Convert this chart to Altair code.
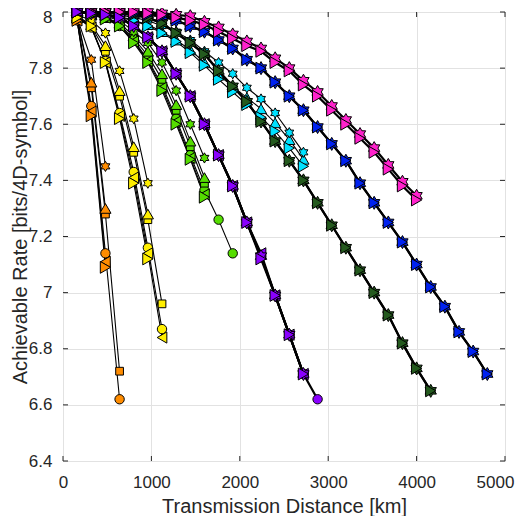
import altair as alt
import pandas as pd

# Distances (km) at which every curve is sampled
DISTANCES = [160, 320, 480, 640, 800, 960, 1120, 1280, 1440, 1600,
             1760, 1920, 2080, 2240, 2400, 2560, 2720, 2880, 3040, 3200,
             3360, 3520, 3680, 3840, 4000, 4160, 4320, 4480, 4640, 4800]

# drawing order of the colour groups (later ones on top)
GROUPS = ["orange", "yellow", "green", "cyan", "darkgreen", "blue", "magenta", "purple"]
COLORS = ["#ff8c00", "#ffee00", "#55dd00", "#00e1ff", "#245a1e", "#0022f0", "#ff22cc", "#8a00ff"]
MARKERS = ["circle", "square", "triangle-up", "triangle-left", "hexagram", "triangle-right"]
DARK = ["darkgreen", "blue", "magenta", "purple"]

HEXAGRAM = ("M0,-1L0.289,-0.5L0.866,-0.5L0.577,0L0.866,0.5L0.289,0.5L0,1"
            "L-0.289,0.5L-0.866,0.5L-0.577,0L-0.866,-0.5L-0.289,-0.5Z")

orange = {
    "hexagram":       [7.98, 7.83, 7.45],
    "circle":         [7.97, 7.665, 7.14, 6.62],
    "square":         [7.98, 7.73, 7.28, 6.72],
    "triangle-up":    [7.98, 7.75, 7.30],
    "triangle-left":  [7.97, 7.645, 7.11],
    "triangle-right": [7.97, 7.63, 7.09],
}

yellow = {
    "hexagram":       [7.99, 7.97, 7.925, 7.79, 7.62, 7.39],
    "circle":         [7.98, 7.945, 7.825, 7.64, 7.43, 7.16, 6.87],
    "square":         [7.985, 7.95, 7.86, 7.70, 7.50, 7.26, 6.96],
    "triangle-up":    [7.985, 7.955, 7.88, 7.72, 7.52, 7.28],
    "triangle-left":  [7.98, 7.945, 7.82, 7.63, 7.41, 7.14, 6.84],
    "triangle-right": [7.98, 7.95, 7.82, 7.62, 7.39, 7.12],
}

green = {
    "hexagram":       [8.0, 7.995, 7.985, 7.97, 7.93, 7.89, 7.82, 7.72, 7.60, 7.48],
    "circle":         [8.0, 7.99, 7.98, 7.95, 7.90, 7.83, 7.74, 7.62, 7.49, 7.365, 7.26, 7.14],
    "square":         [8.0, 7.99, 7.98, 7.955, 7.905, 7.845, 7.76, 7.65, 7.52, 7.39],
    "triangle-up":    [8.0, 7.99, 7.98, 7.96, 7.915, 7.86, 7.78, 7.67, 7.54, 7.41],
    "triangle-left":  [8.0, 7.99, 7.98, 7.95, 7.895, 7.825, 7.73, 7.61, 7.48, 7.35],
    "triangle-right": [8.0, 7.99, 7.975, 7.95, 7.89, 7.82, 7.72, 7.60, 7.475, 7.34],
}

purple_rate = [8.0, 7.995, 7.99, 7.98, 7.95, 7.91, 7.86, 7.78, 7.70, 7.60,
               7.49, 7.38, 7.25, 7.13, 6.99, 6.85, 6.71]
purple_circle = [8.0, 7.995, 7.99, 7.98, 7.95, 7.91, 7.86, 7.78, 7.70, 7.60,
                 7.49, 7.38, 7.25, 7.13, 6.99, 6.85, 6.71, 6.62]
purple_left = [8.0, 7.995, 7.99, 7.98, 7.95, 7.91, 7.86, 7.78, 7.70, 7.60,
               7.49, 7.38, 7.25, 7.14, 6.99, 6.85, 6.71]
purple_right = [8.0, 7.995, 7.99, 7.98, 7.95, 7.91, 7.86, 7.78, 7.70, 7.60,
                7.49, 7.38, 7.25, 7.12, 6.99, 6.85, 6.71]
purple = {
    "hexagram": purple_rate, "circle": purple_circle,
    "triangle-left": purple_left, "triangle-right": purple_right,
}

cyan_hex = [8.0, 8.0, 7.995, 7.99, 7.98, 7.97, 7.95, 7.93, 7.90, 7.86,
            7.82, 7.78, 7.73, 7.69, 7.64, 7.57, 7.50]
cyan_up = [8.0, 8.0, 7.99, 7.985, 7.97, 7.955, 7.93, 7.90, 7.865, 7.82,
           7.775, 7.735, 7.695, 7.655, 7.605, 7.545, 7.475]
cyan_right = [8.0, 8.0, 7.99, 7.98, 7.97, 7.95, 7.925, 7.895, 7.855, 7.81,
              7.76, 7.715, 7.67, 7.625, 7.575, 7.515, 7.45]
cyan = {"hexagram": cyan_hex, "triangle-up": cyan_up, "triangle-right": cyan_right}

darkgreen_rate = [8.0, 8.0, 8.0, 7.995, 7.99, 7.98, 7.96, 7.925, 7.89, 7.85,
                  7.79, 7.735, 7.68, 7.61, 7.54, 7.47, 7.40, 7.32, 7.24, 7.16,
                  7.08, 7.00, 6.92, 6.82, 6.73, 6.65]
darkgreen = {"hexagram": darkgreen_rate, "triangle-right": darkgreen_rate}

blue_rate = [8.0, 8.0, 8.0, 8.0, 7.995, 7.99, 7.985, 7.97, 7.95, 7.93,
             7.90, 7.87, 7.83, 7.80, 7.75, 7.70, 7.65, 7.59, 7.53, 7.47,
             7.39, 7.32, 7.25, 7.18, 7.10, 7.02, 6.95, 6.86, 6.79, 6.71]
blue = {"hexagram": blue_rate, "triangle-right": blue_rate}

magenta_rate = [8.0, 8.0, 8.0, 8.0, 8.0, 7.995, 7.99, 7.98, 7.97, 7.955,
                7.93, 7.905, 7.88, 7.86, 7.82, 7.79, 7.74, 7.70, 7.65, 7.60,
                7.55, 7.50, 7.44, 7.38, 7.33]
magenta_hex = [8.0, 8.0, 8.0, 8.0, 8.0, 8.0, 7.995, 7.99, 7.985, 7.965,
               7.945, 7.92, 7.895, 7.87, 7.835, 7.80, 7.755, 7.715, 7.665, 7.615,
               7.565, 7.515, 7.455, 7.395, 7.345]
magenta = {"hexagram": magenta_hex, "triangle-right": magenta_rate}

DATA = {"orange": orange, "yellow": yellow, "green": green, "purple": purple,
        "cyan": cyan, "darkgreen": darkgreen, "blue": blue, "magenta": magenta}

XTICKS = [0, 1000, 2000, 3000, 4000, 5000]
YTICKS = [6.4, 6.6, 6.8, 7.0, 7.2, 7.4, 7.6, 7.8, 8.0]

# marker areas in px^2 (hexagrams behind the stacked dark curves are drawn larger)
MARKER_SIZE = {"circle": 88, "square": 60, "triangle-up": 125, "triangle-left": 125,
               "hexagram": 105, "triangle-right": 140}
DARK_HEX_SIZE = 170

rows = []
for mi, m in enumerate(MARKERS):
    for gi, g in enumerate(GROUPS):
        ys = DATA[g].get(m)
        if ys is None:
            continue
        dark = g in DARK
        sz = DARK_HEX_SIZE if (dark and m == "hexagram") else MARKER_SIZE[m]
        for d, r in zip(DISTANCES, ys):
            rows.append({"series": g + "-" + m, "group": g, "marker": m, "sz": sz,
                         "dark": dark, "km": d, "rate": r, "ord": mi * 10 + gi})
df = pd.DataFrame(rows)

W, H = 442, 449
FONT = "Liberation Sans"
TXT = "#262626"

xscale = alt.Scale(domain=[0, 5000], nice=False, zero=False)
yscale = alt.Scale(domain=[6.4, 8.0], nice=False, zero=False)

x_axis = alt.Axis(values=XTICKS, format="d", title="Transmission Distance [km]",
                  labelOffset={"expr": "datum.value >= 5000 ? -10 : 0"},
                  grid=True, gridColor="#e2e2e2", gridWidth=1, ticks=False, tickSize=0,
                  domain=False, labelFont=FONT, labelFontSize=17, labelColor=TXT,
                  labelPadding=13, labelFlush=False, labelOverlap=False,
                  titleFont=FONT, titleFontSize=20, titleColor=TXT,
                  titleFontWeight="normal", titleY=51, titleBaseline="alphabetic")
y_axis = alt.Axis(values=YTICKS, format="~g", title="Achievable Rate [bits/4D-symbol]",
                  labelOffset={"expr": "datum.value >= 8 ? 5 : 0"},
                  grid=True, gridColor="#e2e2e2", gridWidth=1, ticks=False, tickSize=0,
                  domain=False, labelFont=FONT, labelFontSize=17, labelColor=TXT,
                  labelPadding=11, labelFlush=False, labelOverlap=False,
                  titleFont=FONT, titleFontSize=20, titleColor=TXT,
                  titleFontWeight="normal", titleX=-37, titleY=H / 2, titleAngle=-90,
                  titleBaseline="alphabetic")

X = alt.X("km:Q", scale=xscale, axis=x_axis)
Y = alt.Y("rate:Q", scale=yscale, axis=y_axis)

base = alt.Chart(df)

lines_light = base.transform_filter("!datum.dark").mark_line(
    color="black", strokeWidth=1.1).encode(x=X, y=Y, detail="series:N", order="km:Q")
lines_dark = base.transform_filter("datum.dark").mark_line(
    color="black", strokeWidth=2.2).encode(x=X, y=Y, detail="series:N", order="km:Q")

points = base.mark_point(filled=True, stroke="black", strokeWidth=1, opacity=1,
                         fillOpacity=1, strokeOpacity=1).encode(
    x=X, y=Y,
    fill=alt.Fill("group:N", scale=alt.Scale(domain=GROUPS, range=COLORS), legend=None),
    shape=alt.Shape("marker:N", scale=alt.Scale(
        domain=MARKERS,
        range=["circle", "square", "triangle-up", "triangle-left", HEXAGRAM, "triangle-right"]),
        legend=None),
    size=alt.Size("sz:Q", scale=None, legend=None),
    order=alt.Order("ord:Q"),
)

xt = pd.DataFrame({"km": XTICKS})
yt = pd.DataFrame({"rate": YTICKS})
TICK = 5
xtick_top = alt.Chart(xt).mark_rule(color=TXT, strokeWidth=1).encode(
    x=X, y=alt.value(0), y2=alt.value(TICK))
xtick_bot = alt.Chart(xt).mark_rule(color=TXT, strokeWidth=1).encode(
    x=X, y=alt.value(H - TICK), y2=alt.value(H))
ytick_left = alt.Chart(yt).mark_rule(color=TXT, strokeWidth=1).encode(
    y=Y, x=alt.value(0), x2=alt.value(TICK))
ytick_right = alt.Chart(yt).mark_rule(color=TXT, strokeWidth=1).encode(
    y=Y, x=alt.value(W - TICK), x2=alt.value(W))

chart = alt.layer(lines_light, lines_dark, xtick_top, xtick_bot, ytick_left, ytick_right,
                  points).properties(
    width=W, height=H,
    autosize=alt.AutoSizeParams(type="none"),
    padding={"left": 55, "top": 4, "right": 10, "bottom": 55},
).configure_view(stroke=TXT, strokeWidth=1).configure(background="white")

chart.save("out.html", embed_options={"renderer": "svg", "actions": False})
